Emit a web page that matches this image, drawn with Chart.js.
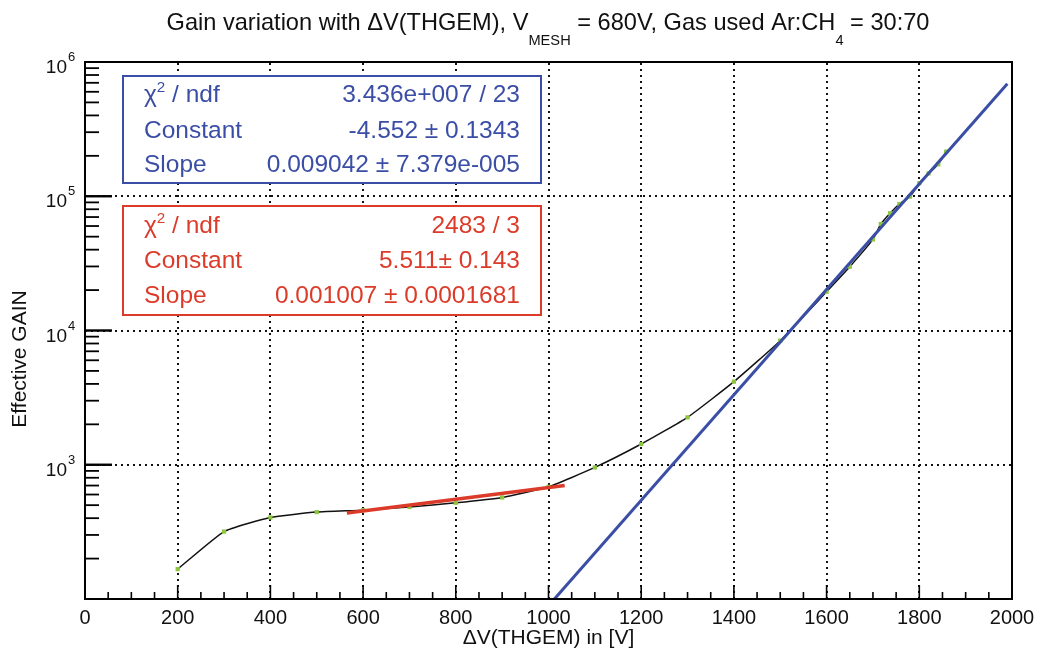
<!DOCTYPE html>
<html>
<head>
<meta charset="utf-8">
<script src="https://cdn.jsdelivr.net/npm/chart.js@4.4.1/dist/chart.umd.min.js"></script>
<style>
  html, body { margin: 0; padding: 0; background: #fff; }
  #wrap { width: 1039px; height: 653px; position: relative; }
</style>
</head>
<body>
<div id="wrap"><canvas id="gainChart"></canvas></div>
<script>
// measured points (green markers)
const voltages = [200, 300, 400, 500, 600, 700, 800, 900, 1000, 1100, 1200, 1300, 1400, 1500,
  1600, 1650, 1700, 1717, 1737, 1757, 1780, 1800, 1820, 1841, 1858];
const gains = [167, 318, 405, 444, 459, 485, 521, 571, 685, 955, 1427, 2255, 4160, 8400,
  19450, 29850, 47700, 62100, 74700, 87500, 99300, 125000, 148000, 173000, 215000];

// expo fits: exp(constant + slope * x)
const blueFitParams = [-4.552, 0.009042];
const blueFitRange = [1000, 1990];
const redFitParams = [5.511, 0.001007];
const redFitRange = [565, 1035];

// stat boxes
const blueStatNames = ["χ2 / ndf", "Constant", "Slope"];
const blueStatValues = ["3.436e+007 / 23", "-4.552 ± 0.1343", "0.009042 ± 7.379e-005"];
const redStatNames = ["χ2 / ndf", "Constant", "Slope"];
const redStatValues = ["2483 / 3", "5.511± 0.143", "0.001007 ± 0.0001681"];

// axes
const xTickValues = [0, 200, 400, 600, 800, 1000, 1200, 1400, 1600, 1800, 2000];
const yDecades = [3, 4, 5, 6];

const FONT = "'Liberation Sans', Arial, sans-serif";
const BLUE = "#3b4ea6";
const RED = "#dc3b2a";

function expoLine(params, range) {
  // a straight segment on the log axis is exactly the exponential
  return range.map((x) => ({ x: x, y: Math.exp(params[0] + params[1] * x) }));
}

// draw text made of pieces, some of them raised or lowered
function drawPieces(ctx, pieces, x, y, size) {
  let cx = x;
  pieces.forEach((p) => {
    const s = p.sup || p.sub ? size * 0.62 : size;
    ctx.font = s + "px " + FONT;
    const dy = p.sup ? -size * 0.42 : p.sub ? size * 0.62 : 0;
    ctx.fillText(p.t, cx, y + dy);
    cx += ctx.measureText(p.t).width;
  });
  return cx - x;
}
function piecesWidth(ctx, pieces, size) {
  let w = 0;
  pieces.forEach((p) => {
    const s = p.sup || p.sub ? size * 0.62 : size;
    ctx.font = s + "px " + FONT;
    w += ctx.measureText(p.t).width;
  });
  return w;
}
function statPieces(name) {
  if (name.startsWith("χ2")) return [{ t: "χ" }, { t: "2", sup: true }, { t: name.slice(2) }];
  return [{ t: name }];
}

function drawStatBox(ctx, box, names, values, color) {
  ctx.save();
  ctx.fillStyle = "#fff";
  ctx.fillRect(box.x, box.y, box.w, box.h);
  ctx.strokeStyle = color;
  ctx.lineWidth = 2;
  ctx.strokeRect(box.x, box.y, box.w, box.h);
  ctx.fillStyle = color;
  ctx.textBaseline = "alphabetic";
  names.forEach((n, i) => {
    ctx.textAlign = "left";
    drawPieces(ctx, statPieces(n), box.x + 21, box.rows[i], 24.5);
    ctx.textAlign = "right";
    ctx.font = "24.5px " + FONT;
    ctx.fillText(values[i], box.x + box.w - 21, box.rows[i]);
  });
  ctx.restore();
}

const rootStyle = {
  id: "rootStyle",
  beforeDatasetsDraw(chart) {
    const { ctx, chartArea: a, scales } = chart;
    const xs = scales.x, ys = scales.y;
    ctx.save();
    ctx.strokeStyle = "#111";
    ctx.lineWidth = 2;
    ctx.setLineDash([2, 4]);
    xTickValues.forEach((v) => {
      const px = Math.round(xs.getPixelForValue(v));
      if (px <= a.left + 1 || px >= a.right - 1) return;
      ctx.beginPath(); ctx.moveTo(px, a.bottom); ctx.lineTo(px, a.top); ctx.stroke();
    });
    yDecades.forEach((d) => {
      const py = Math.round(ys.getPixelForValue(Math.pow(10, d)));
      if (py <= a.top + 1) return;
      ctx.beginPath(); ctx.moveTo(a.left, py); ctx.lineTo(a.right, py); ctx.stroke();
    });
    ctx.restore();
  },
  afterDatasetsDraw(chart) {
    const { ctx, chartArea: a, scales } = chart;
    const xs = scales.x, ys = scales.y;
    ctx.save();
    ctx.strokeStyle = "#000";
    ctx.lineWidth = 2;
    ctx.setLineDash([]);
    ctx.strokeRect(a.left, a.top, a.right - a.left, a.bottom - a.top);

    // x ticks every 50, long ones every 200
    ctx.lineWidth = 1.6;
    for (let v = 0; v <= 2000; v += 50) {
      const px = xs.getPixelForValue(v);
      const len = v % 200 === 0 ? 14 : 7;
      ctx.beginPath(); ctx.moveTo(px, a.bottom); ctx.lineTo(px, a.bottom - len); ctx.stroke();
    }
    // y ticks
    for (let d = 2; d < 6; d++) {
      for (let k = 1; k <= 9; k++) {
        const v = k * Math.pow(10, d);
        if (v <= ys.min || v >= ys.max) continue;
        const py = ys.getPixelForValue(v);
        const len = k === 1 ? 27 : 14;
        ctx.lineWidth = k === 1 ? 2.4 : 1.8;
        ctx.beginPath(); ctx.moveTo(a.left, py); ctx.lineTo(a.left + len, py); ctx.stroke();
      }
    }

    // tick labels
    ctx.fillStyle = "#111";
    ctx.textAlign = "center";
    ctx.textBaseline = "alphabetic";
    ctx.font = "20px " + FONT;
    xTickValues.forEach((v) => {
      ctx.fillText(String(v), xs.getPixelForValue(v), 624);
    });
    yDecades.forEach((d) => {
      const py = ys.getPixelForValue(Math.pow(10, d));
      ctx.textAlign = "right";
      ctx.font = "19px " + FONT;
      ctx.fillText("10", 67, py + 11);
      ctx.textAlign = "left";
      ctx.font = "13px " + FONT;
      ctx.fillText(String(d), 68, py - 1);
    });

    // axis titles
    ctx.textAlign = "center";
    ctx.font = "21px " + FONT;
    ctx.fillText("ΔV(THGEM) in [V]", (a.left + a.right) / 2, 644);
    ctx.save();
    ctx.translate(26, 359);
    ctx.rotate(-Math.PI / 2);
    ctx.fillText("Effective GAIN", 0, 0);
    ctx.restore();

    // title
    const titlePieces = [
      { t: "Gain variation with ΔV(THGEM), V" }, { t: "MESH", sub: true },
      { t: " = 680V, Gas used Ar:CH" }, { t: "4", sub: true }, { t: " = 30:70" },
    ];
    ctx.textAlign = "left";
    const tw = piecesWidth(ctx, titlePieces, 23.6);
    drawPieces(ctx, titlePieces, 548 - tw / 2, 30, 23.6);

    ctx.restore();

    drawStatBox(ctx, { x: 123, y: 76, w: 418, h: 107, rows: [102, 138, 172] },
      blueStatNames, blueStatValues, BLUE);
    drawStatBox(ctx, { x: 123, y: 206, w: 418, h: 109, rows: [233, 268, 303] },
      redStatNames, redStatValues, RED);
  },
};

const ctx = document.getElementById("gainChart").getContext("2d");

new Chart(ctx, {
  type: "scatter",
  data: {
    datasets: [
      {
        label: "expo fit 1",
        data: expoLine(blueFitParams, blueFitRange),
        showLine: true,
        borderColor: BLUE,
        borderWidth: 3,
        pointRadius: 0,
        order: 0,
      },
      {
        label: "expo fit 2",
        data: expoLine(redFitParams, redFitRange),
        showLine: true,
        borderColor: RED,
        borderWidth: 3.5,
        pointRadius: 0,
        order: 1,
      },
      {
        label: "gain",
        data: voltages.map((v, i) => ({ x: v, y: gains[i] })),
        showLine: true,
        borderColor: "#111",
        borderWidth: 1.5,
        tension: 0.15,
        pointStyle: "rect",
        pointRadius: 3,
        pointBackgroundColor: "#8cc63f",
        pointBorderWidth: 0,
        order: 2,
      },
    ],
  },
  options: {
    responsive: true,
    maintainAspectRatio: false,
    animation: false,
    layout: { padding: { left: 85, right: 27, top: 62, bottom: 54 } },
    plugins: { legend: { display: false }, tooltip: { enabled: false } },
    scales: {
      x: { type: "linear", min: 0, max: 2000, display: false },
      y: { type: "logarithmic", min: 100, max: 1000000, display: false },
    },
  },
  plugins: [rootStyle],
});
</script>
</body>
</html>
